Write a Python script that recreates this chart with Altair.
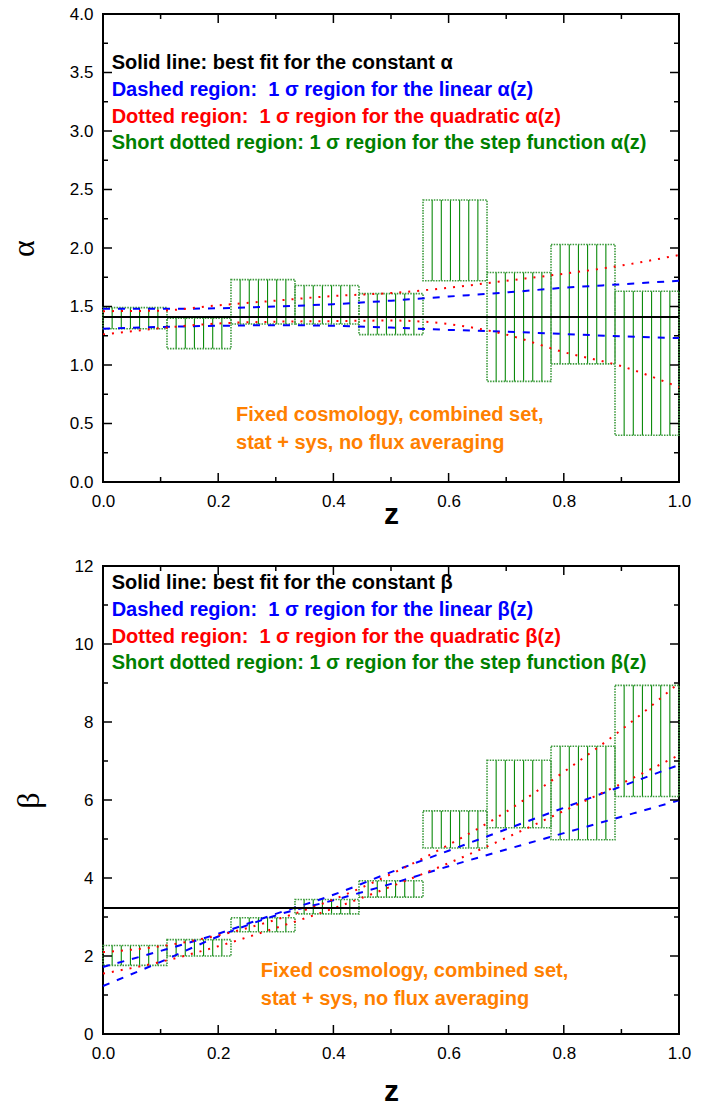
import altair as alt
import pandas as pd

# ---------------- data ----------------
Z = [0.0, 0.1, 0.2, 0.3, 0.4, 0.5, 0.6, 0.7, 0.8, 0.9, 1.0]

alpha_lin_upper = [1.48, 1.48, 1.485, 1.50, 1.52, 1.55, 1.585, 1.62, 1.66, 1.69, 1.72]
alpha_lin_lower = [1.31, 1.325, 1.335, 1.34, 1.335, 1.32, 1.30, 1.285, 1.265, 1.245, 1.23]
alpha_quad_upper = [1.46, 1.465, 1.51, 1.55, 1.59, 1.615, 1.66, 1.72, 1.78, 1.85, 1.94]
alpha_quad_lower = [1.26, 1.315, 1.355, 1.37, 1.375, 1.38, 1.35, 1.26, 1.11, 0.99, 0.81]
alpha_const = 1.41

beta_lin_upper = [1.72, 2.13, 2.57, 3.08, 3.57, 4.15, 4.70, 5.25, 5.80, 6.35, 6.90]
beta_lin_lower = [1.23, 1.85, 2.50, 3.04, 3.43, 3.85, 4.30, 4.73, 5.15, 5.57, 5.99]
beta_quad_upper = [2.10, 2.25, 2.53, 2.93, 3.45, 4.10, 4.85, 5.70, 6.72, 7.80, 9.00]
beta_quad_lower = [1.55, 1.85, 2.25, 2.72, 3.22, 3.78, 4.38, 5.03, 5.72, 6.42, 7.15]
beta_const = 3.23

bin_edges = [0.0, 0.1111, 0.2222, 0.3333, 0.4444, 0.5556, 0.6667, 0.7778, 0.8889, 1.0]
alpha_step_low = [1.31, 1.14, 1.35, 1.35, 1.26, 1.72, 0.86, 1.01, 0.40]
alpha_step_high = [1.49, 1.40, 1.73, 1.68, 1.61, 2.41, 1.79, 2.03, 1.63]
beta_step_low = [1.76, 2.00, 2.62, 3.08, 3.51, 4.77, 5.29, 4.98, 6.09]
beta_step_high = [2.27, 2.42, 2.98, 3.45, 3.93, 5.72, 7.02, 7.38, 8.94]

x_major = [0.0, 0.2, 0.4, 0.6, 0.8, 1.0]
x_minor = [0.1, 0.3, 0.5, 0.7, 0.9]
alpha_major = [0.0, 0.5, 1.0, 1.5, 2.0, 2.5, 3.0, 3.5, 4.0]
alpha_minor = [0.25, 0.75, 1.25, 1.75, 2.25, 2.75, 3.25, 3.75]
beta_major = [0, 2, 4, 6, 8, 10, 12]
beta_minor = [1, 3, 5, 7, 9, 11]

NB = "\u00a0"
alpha_notes = [
    "Solid line: best fit for the constant \u03b1",
    "Dashed region:" + NB + " 1 \u03c3 region for the linear \u03b1(z)",
    "Dotted region:" + NB + " 1 \u03c3 region for the quadratic \u03b1(z)",
    "Short dotted region: 1 \u03c3 region for the step function \u03b1(z)",
]
beta_notes = [
    "Solid line: best fit for the constant \u03b2",
    "Dashed region:" + NB + " 1 \u03c3 region for the linear \u03b2(z)",
    "Dotted region:" + NB + " 1 \u03c3 region for the quadratic \u03b2(z)",
    "Short dotted region: 1 \u03c3 region for the step function \u03b2(z)",
]
note_colors = ["#000000", "#0000FF", "#FF0000", "#008000"]
alpha_note_y = [3.527, 3.30, 3.07, 2.845]
beta_note_y = [11.41, 10.72, 10.03, 9.35]
note_x = 0.015

orange_lines = ["Fixed cosmology, combined set,", "stat + sys, no flux averaging"]
alpha_orange_y = [0.525, 0.286]
beta_orange_y = [1.45, 0.75]
alpha_orange_x = 0.231
beta_orange_x = 0.274

W, H = 576, 468
SANS = "Liberation Sans"
SERIF = "Liberation Serif"


def panel(ydom, ymajor, yminor, yfmt, ytitle, lin_u, lin_l, quad_u, quad_l, const,
          st_lo, st_hi, notes, note_y, or_x, or_y, xtitle_pad):
    xs = alt.Scale(domain=[0, 1], nice=False, zero=False)
    ys = alt.Scale(domain=ydom, nice=False, zero=False)
    xax = alt.Axis(values=x_major, format=".1f", ticks=False, domain=False, grid=False,
                   labelFont=SANS, labelFontSize=17, labelPadding=11, labelFlush=False,
                   labelColor="black", title="z", titleFont=SANS, titleFontSize=30,
                   titleFontWeight="bold", titlePadding=xtitle_pad, titleColor="black")
    yax = alt.Axis(values=ymajor, format=yfmt, ticks=False, domain=False, grid=False,
                   labelFont=SANS, labelFontSize=17, labelPadding=10, labelFlush=False,
                   labelColor="black", title=ytitle, titleFont=SERIF, titleFontSize=32,
                   titleFontWeight="normal", titlePadding=29, titleColor="black")

    # step function boxes + hatching
    boxes = pd.DataFrame({"x0": bin_edges[:-1], "x1": bin_edges[1:], "lo": st_lo, "hi": st_hi})
    hrows = []
    for x0, x1, lo, hi in zip(bin_edges[:-1], bin_edges[1:], st_lo, st_hi):
        for k in range(1, 7):
            hrows.append({"hx": x0 + k * (x1 - x0) / 7, "lo": lo, "hi": hi})
    hatch = pd.DataFrame(hrows)

    base_x = alt.X("hx:Q", scale=xs, axis=xax)
    hatch_l = alt.Chart(hatch).mark_rule(color="#0a8a0a", strokeWidth=1.1).encode(
        x=base_x, y=alt.Y("lo:Q", scale=ys, axis=yax), y2="hi:Q")
    box_l = alt.Chart(boxes).mark_rect(fillOpacity=0, stroke="#3c9a3c", strokeWidth=1.6,
                                       strokeDash=[1.5, 1.2]).encode(
        x=alt.X("x0:Q", scale=xs), x2="x1:Q", y=alt.Y("lo:Q", scale=ys), y2="hi:Q")

    lin = pd.DataFrame({"z": Z * 2, "v": lin_u + lin_l, "b": ["u"] * len(Z) + ["l"] * len(Z)})
    quad = pd.DataFrame({"z": Z * 2, "v": quad_u + quad_l, "b": ["u"] * len(Z) + ["l"] * len(Z)})
    lin_l_ = alt.Chart(lin).mark_line(color="#0000FF", strokeWidth=2, strokeDash=[7, 8],
                                      interpolate="monotone").encode(
        x=alt.X("z:Q", scale=xs), y=alt.Y("v:Q", scale=ys), detail="b:N")
    quad_l_ = alt.Chart(quad).mark_line(color="#FF0000", strokeWidth=2, strokeDash=[2, 7],
                                        interpolate="monotone").encode(
        x=alt.X("z:Q", scale=xs), y=alt.Y("v:Q", scale=ys), detail="b:N")
    const_l = alt.Chart(pd.DataFrame({"c": [const]})).mark_rule(color="black", strokeWidth=2).encode(
        y=alt.Y("c:Q", scale=ys))

    nd = pd.DataFrame({"t": notes, "y": note_y, "x": [note_x] * 4, "col": note_colors})
    notes_l = alt.Chart(nd).mark_text(align="left", baseline="alphabetic", font=SANS,
                                      fontSize=20, fontWeight="bold").encode(
        x=alt.X("x:Q", scale=xs), y=alt.Y("y:Q", scale=ys), text="t:N",
        color=alt.Color("col:N", scale=None))
    od = pd.DataFrame({"t": orange_lines, "y": or_y, "x": [or_x] * 2})
    orange_l = alt.Chart(od).mark_text(align="left", baseline="alphabetic", font=SANS,
                                       fontSize=20, fontWeight="bold", color="#FF8000").encode(
        x=alt.X("x:Q", scale=xs), y=alt.Y("y:Q", scale=ys), text="t:N")

    # inward ticks on all four sides
    def xt(vals, ln):
        d = pd.DataFrame({"v": vals})
        b = alt.Chart(d).mark_rule(color="black", strokeWidth=1.5).encode(
            x=alt.X("v:Q", scale=xs), y=alt.value(H), y2=alt.value(H - ln))
        t = alt.Chart(d).mark_rule(color="black", strokeWidth=1.5).encode(
            x=alt.X("v:Q", scale=xs), y=alt.value(0), y2=alt.value(ln))
        return [b, t]

    def yt(vals, ln):
        d = pd.DataFrame({"v": vals})
        l = alt.Chart(d).mark_rule(color="black", strokeWidth=1.5).encode(
            y=alt.Y("v:Q", scale=ys), x=alt.value(0), x2=alt.value(ln))
        r = alt.Chart(d).mark_rule(color="black", strokeWidth=1.5).encode(
            y=alt.Y("v:Q", scale=ys), x=alt.value(W), x2=alt.value(W - ln))
        return [l, r]

    ticks = xt(x_major, 9) + xt(x_minor, 5) + yt(ymajor, 9) + yt(yminor, 5)

    return alt.layer(hatch_l, box_l, lin_l_, quad_l_, const_l, notes_l, orange_l,
                     *ticks).properties(width=W, height=H)


top = panel([0, 4], alpha_major, alpha_minor, ".1f", "\u03b1",
            alpha_lin_upper, alpha_lin_lower, alpha_quad_upper, alpha_quad_lower, alpha_const,
            alpha_step_low, alpha_step_high, alpha_notes, alpha_note_y, alpha_orange_x,
            alpha_orange_y, -10)
bottom = panel([0, 12], beta_major, beta_minor, "d", "\u03b2",
               beta_lin_upper, beta_lin_lower, beta_quad_upper, beta_quad_lower, beta_const,
               beta_step_low, beta_step_high, beta_notes, beta_note_y, beta_orange_x,
               beta_orange_y, 15)

chart = alt.vconcat(top, bottom, spacing=26).properties(
    padding={"left": 6, "top": 4, "right": 5, "bottom": 0}
).configure_view(stroke="black", strokeWidth=2)

chart.save("out.html", embed_options={"renderer": "svg", "actions": False})
